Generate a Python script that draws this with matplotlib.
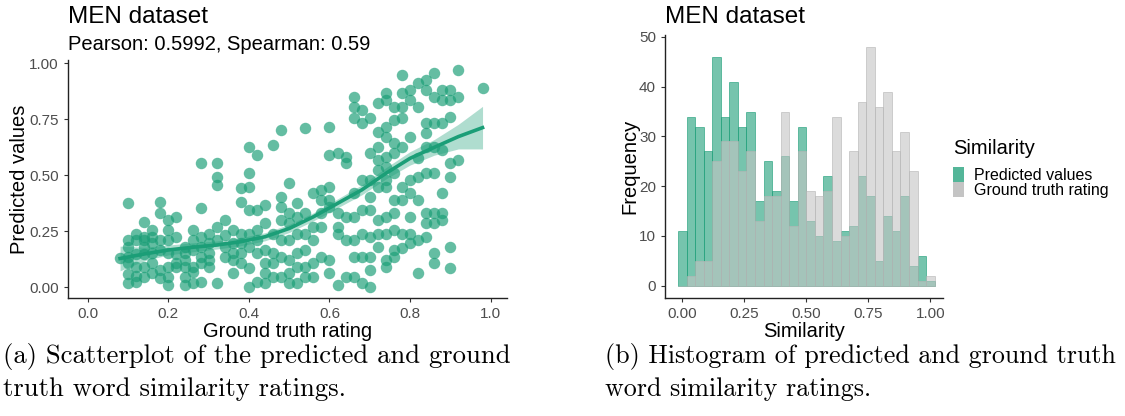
import matplotlib
matplotlib.use("Agg")
import matplotlib.pyplot as plt
from matplotlib.patches import Patch
import numpy as np

plt.rcParams['font.family'] = ['Liberation Sans', 'DejaVu Sans']

GREEN = '#1b9e77'
GREY = '#c4c4c4'

# --- scatter: ground truth levels (MEN ratings are steps of 0.02) and predicted values
gt_levels = [0.08, 0.10, 0.12, 0.14, 0.16, 0.18, 0.20, 0.22, 0.24, 0.26,
             0.28, 0.30, 0.32, 0.34, 0.36, 0.38, 0.40, 0.42, 0.44, 0.46,
             0.48, 0.50, 0.52, 0.54, 0.56, 0.58, 0.60, 0.62, 0.64, 0.66,
             0.68, 0.70, 0.72, 0.74, 0.76, 0.78, 0.80, 0.82, 0.84, 0.86,
             0.88, 0.90, 0.92, 0.98]
pred_by_level = [
    [0.13],
    [0.375, 0.21, 0.18, 0.107, 0.06, 0.02, 0.137],
    [0.21, 0.15, 0.09, 0.05, 0.025, 0.24],
    [0.29, 0.226, 0.21, 0.15, 0.09, 0.048, 0.18],
    [0.226, 0.196, 0.152, 0.107, 0.063, 0.256],
    [0.38, 0.21, 0.167, 0.077, 0.04, 0.33],
    [0.256, 0.21, 0.152, 0.092, 0.048, 0.01, 0.30],
    [0.315, 0.226, 0.15, 0.107, 0.092],
    [0.18, 0.152, 0.122, 0.092, 0.048, 0.01],
    [0.21, 0.256, 0.092, 0.07, 0.018, 0.167],
    [0.554, 0.353, 0.226, 0.18, 0.107, 0.025, 0.137],
    [0.152, 0.122, 0.092, 0.196, 0.24],
    [0.554, 0.494, 0.457, 0.27, 0.21, 0.018],
    [0.234, 0.18, 0.137, 0.30],
    [0.256, 0.196, 0.122, 0.063, 0.152],
    [0.442, 0.383, 0.196, 0.152, 0.107, 0.24],
    [0.628, 0.449, 0.509, 0.345, 0.24, 0.18, 0.003, 0.085],
    [0.59, 0.345, 0.256, 0.21, 0.152, 0.025],
    [0.368, 0.286, 0.167, 0.107, 0.018, 0.063],
    [0.635, 0.24, 0.152, 0.107, 0.048],
    [0.702, 0.405, 0.36, 0.30, 0.21, 0.137, 0.048],
    [0.464, 0.33, 0.286, 0.21, 0.122, 0.063, 0.018],
    [0.375, 0.24, 0.152, 0.092, 0.018, 0.315],
    [0.71, 0.33, 0.24, 0.167, 0.092, 0.048],
    [0.42, 0.27, 0.21, 0.107, 0.048],
    [0.435, 0.39, 0.33, 0.27, 0.137],
    [0.717, 0.59, 0.449, 0.39, 0.36, 0.122, 0.063],
    [0.598, 0.33, 0.27, 0.24, 0.01],
    [0.583, 0.554, 0.315, 0.21, 0.048],
    [0.851, 0.807, 0.754, 0.42, 0.315, 0.21, 0.137, 0.048],
    [0.792, 0.732, 0.479, 0.345, 0.24, 0.137, 0.018],
    [0.754, 0.598, 0.479, 0.405, 0.345, 0.226, 0.137, 0.077, 0.003],
    [0.821, 0.695, 0.628, 0.568, 0.524, 0.449, 0.30, 0.24, 0.18],
    [0.866, 0.836, 0.717, 0.673, 0.583, 0.539, 0.479, 0.449, 0.315, 0.24, 0.122, 0.092],
    [0.807, 0.747, 0.643, 0.598, 0.509, 0.39, 0.33, 0.256, 0.167, 0.137],
    [0.948, 0.866, 0.807, 0.754, 0.628, 0.449, 0.39, 0.24, 0.174],
    [0.881, 0.836, 0.673, 0.479, 0.42, 0.315, 0.24, 0.196],
    [0.911, 0.807, 0.576, 0.494, 0.39, 0.21, 0.063],
    [0.926, 0.881, 0.732, 0.688, 0.628, 0.509, 0.33, 0.286, 0.226],
    [0.955, 0.851, 0.732, 0.628, 0.509, 0.33, 0.286, 0.152, 0.107],
    [0.881, 0.836, 0.732, 0.613, 0.42, 0.33, 0.30],
    [0.881, 0.836, 0.762, 0.554, 0.494, 0.18, 0.085],
    [0.97, 0.851, 0.568],
    [0.888],
]

# loess fit, with its confidence half-width
fit_x = [0.08, 0.14, 0.20, 0.26, 0.32, 0.38, 0.44, 0.50, 0.56, 0.62,
         0.68, 0.74, 0.80, 0.86, 0.92, 0.98]
fit_y = [0.129, 0.149, 0.167, 0.179, 0.189, 0.204, 0.226, 0.263, 0.315, 0.375,
         0.435, 0.509, 0.576, 0.625, 0.673, 0.713]
fit_se = [0.055, 0.03, 0.022, 0.02, 0.018, 0.018, 0.018, 0.018, 0.018, 0.02,
          0.022, 0.025, 0.03, 0.035, 0.055, 0.095]

# --- histogram counts (30 bins over [0, 1])
pred_counts = [11, 34, 32, 27, 46, 34, 41, 32, 35, 17, 25, 19, 26, 17, 32,
               13, 10, 22, 9, 11, 12, 22, 18, 5, 14, 11, 18, 4, 6, 1]
gt_counts = [0, 2, 5, 5, 25, 29, 29, 23, 27, 13, 18, 18, 35, 12, 27,
             19, 18, 19, 34, 10, 27, 37, 48, 36, 39, 27, 31, 23, 1, 2]

gt_x = np.concatenate([[lv] * len(ys) for lv, ys in zip(gt_levels, pred_by_level)])
pred_y = np.concatenate(pred_by_level)

fig = plt.figure(figsize=(11.25, 4.16), dpi=100)

def style(ax):
    for s in ['top', 'right']:
        ax.spines[s].set_visible(False)
    for s in ['left', 'bottom']:
        ax.spines[s].set_linewidth(1.0)
        ax.spines[s].set_color('#222222')
    ax.tick_params(labelsize=11, colors='#333333', length=3, width=0.8,
                   labelcolor='#4d4d4d')

# ---------------- scatter
ax1 = fig.add_axes([0.0602, 0.2844, 0.3902, 0.5714])
ax1.scatter(gt_x, pred_y, s=68, color=GREEN, alpha=0.68, linewidths=0, zorder=2)
lo = np.array(fit_y) - np.array(fit_se)
hi = np.array(fit_y) + np.array(fit_se)
ax1.fill_between(fit_x, lo, hi, color=GREEN, alpha=0.35, linewidth=0, zorder=3)
ax1.plot(fit_x, fit_y, color=GREEN, lw=2.6, zorder=4)
ax1.set_xlim(-0.05, 1.04)
ax1.set_ylim(-0.046, 1.015)
ax1.set_xticks([0.0, 0.2, 0.4, 0.6, 0.8, 1.0])
ax1.set_xticklabels(['0.0', '0.2', '0.4', '0.6', '0.8', '1.0'])
ax1.set_yticks([0, 0.25, 0.5, 0.75, 1.0])
ax1.set_yticklabels(['0.00', '0.25', '0.50', '0.75', '1.00'])
style(ax1)
ax1.set_xlabel('Ground truth rating', fontsize=14.5, labelpad=1)
ax1.set_ylabel('Predicted values', fontsize=14.5, labelpad=0)
fig.text(0.0605, 0.958, 'MEN dataset', fontsize=17.5, va='center', ha='left')
fig.text(0.0605, 0.892, 'Pearson: 0.5992, Spearman: 0.59', fontsize=14.5,
         va='center', ha='left')

# ---------------- histogram
edges = np.linspace(-1 / 58, 1 + 1 / 58, 31)
w = edges[1] - edges[0]
ax2 = fig.add_axes([0.5911, 0.2844, 0.2469, 0.6315])
ax2.bar(edges[:-1], pred_counts, width=w, align='edge', color=GREEN, alpha=0.6,
        edgecolor=GREEN, linewidth=0.7, zorder=2)
ax2.bar(edges[:-1], gt_counts, width=w, align='edge', color=GREY, alpha=0.6,
        edgecolor='#b5b5b5', linewidth=0.7, zorder=3)
ax2.set_xlim(-0.07, 1.05)
ax2.set_ylim(-2.4, 50.4)
ax2.set_xticks([0, 0.25, 0.5, 0.75, 1.0])
ax2.set_xticklabels(['0.00', '0.25', '0.50', '0.75', '1.00'])
ax2.set_yticks([0, 10, 20, 30, 40, 50])
style(ax2)
ax2.set_xlabel('Similarity', fontsize=14.5, labelpad=1)
ax2.set_ylabel('Frequency', fontsize=14.5, labelpad=0)
fig.text(0.5911, 0.958, 'MEN dataset', fontsize=17.5, va='center', ha='left')

fig.text(0.847, 0.644, 'Similarity', fontsize=14.5, va='center', ha='left')
handles = [Patch(facecolor=GREEN, alpha=0.75, edgecolor='none'),
           Patch(facecolor=GREY, edgecolor='none')]
leg = fig.legend(handles, ['Predicted values', 'Ground truth rating'],
                 loc='upper left', bbox_to_anchor=(0.847, 0.598),
                 frameon=False, fontsize=11.5, labelspacing=-0.05,
                 handlelength=0.7, handleheight=1.05, handletextpad=0.6,
                 borderaxespad=0, borderpad=0)

# ---------------- captions
cap = dict(family='cmr10', ha='left', va='baseline')
fig.text(0.003, 0.127, '(a) Scatterplot of the predicted and ground',
         fontsize=19.2, **cap)
fig.text(0.003, 0.047, 'truth word similarity ratings.', fontsize=19.2, **cap)
fig.text(0.538, 0.127, '(b) Histogram of predicted and ground truth',
         fontsize=18.7, **cap)
fig.text(0.538, 0.047, 'word similarity ratings.', fontsize=18.7, **cap)

fig.savefig('out.png', dpi=100)
